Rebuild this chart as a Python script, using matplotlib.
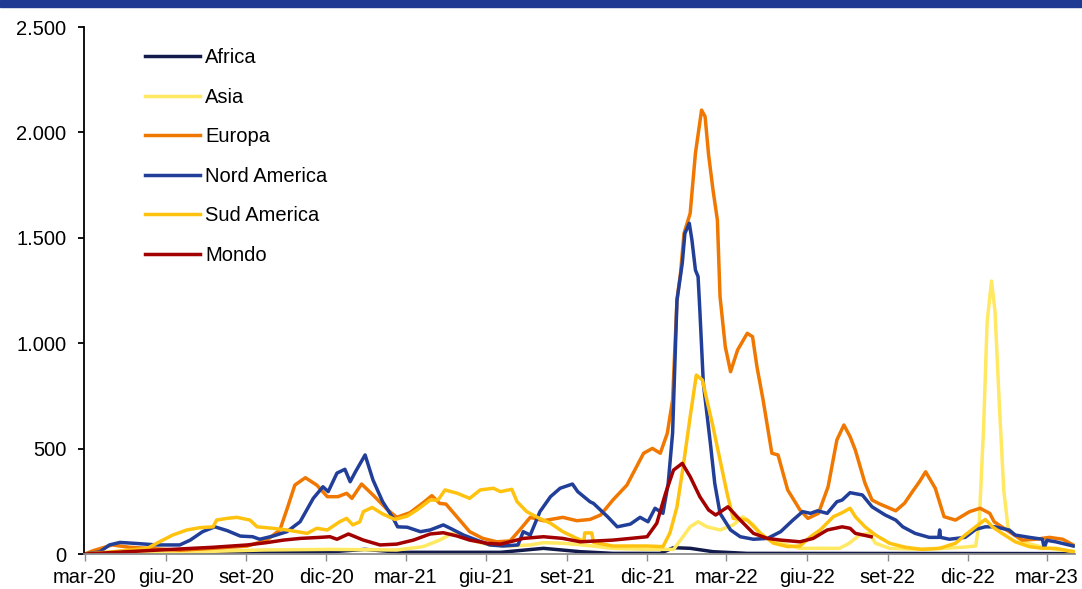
import pandas as pd
import matplotlib
matplotlib.use('Agg')
import matplotlib.pyplot as plt
from matplotlib.patches import Rectangle
from matplotlib.ticker import FuncFormatter

plt.rcParams['font.family'] = ['Liberation Sans', 'DejaVu Sans']

# valori (date, valori)
africa_dates = ['2020-03-01', '2020-07-10', '2020-09-16', '2020-12-05', '2021-01-14', '2021-02-23',
                '2021-06-17', '2021-08-05', '2021-09-16', '2021-10-23', '2021-12-16', '2021-12-31',
                '2022-01-19', '2022-02-14', '2022-03-25', '2023-03-31']
africa_vals = [0, 5, 10, 10, 22, 8, 8, 27, 11, 3, 3, 30, 27, 11, 3, 2]

asia_dates = ['2020-03-01', '2020-05-14', '2020-09-20', '2020-12-05', '2021-02-19', '2021-03-21',
              '2021-04-09', '2021-04-23', '2021-05-05', '2021-05-21', '2021-06-05', '2021-06-28',
              '2021-07-21', '2021-08-05', '2021-08-27', '2021-09-19', '2021-10-23', '2021-12-01',
              '2021-12-31', '2022-01-08', '2022-01-19', '2022-01-28', '2022-02-07', '2022-02-22',
              '2022-03-09', '2022-03-20', '2022-04-01', '2022-04-12', '2022-05-02', '2022-05-24',
              '2022-07-08', '2022-07-19', '2022-07-31', '2022-08-11', '2022-08-18', '2022-09-03',
              '2022-10-10', '2022-11-25', '2022-12-10', '2022-12-14', '2022-12-19', '2022-12-23',
              '2022-12-28', '2023-01-01', '2023-01-06', '2023-01-11', '2023-01-16', '2023-02-01',
              '2023-02-21', '2023-03-11', '2023-03-31']
asia_vals = [0, 5, 19, 22, 19, 35, 66, 98, 82, 58, 43, 38, 43, 54, 51, 43, 27, 22, 22, 66, 129,
             153, 129, 114, 138, 177, 138, 82, 51, 27, 27, 51, 90, 98, 51, 27, 22, 32, 38, 150,
             600, 1100, 1295, 1150, 700, 300, 120, 58, 35, 22, 13]

europa_dates = ['2020-03-01', '2020-03-10', '2020-04-01', '2020-04-21', '2020-05-11', '2020-06-17',
                '2020-08-05', '2020-09-02', '2020-09-24', '2020-10-09', '2020-10-18', '2020-10-26',
                '2020-11-07', '2020-11-20', '2020-12-02', '2020-12-14', '2020-12-24', '2020-12-30',
                '2021-01-10', '2021-01-23', '2021-02-08', '2021-02-19', '2021-03-06', '2021-03-21',
                '2021-03-31', '2021-04-09', '2021-04-16', '2021-04-29', '2021-05-13', '2021-05-28',
                '2021-06-13', '2021-06-28', '2021-07-09', '2021-07-21', '2021-08-05', '2021-08-27',
                '2021-09-12', '2021-09-27', '2021-10-09', '2021-10-23', '2021-11-08', '2021-11-27',
                '2021-12-07', '2021-12-16', '2021-12-24', '2021-12-30', '2022-01-04', '2022-01-08',
                '2022-01-12', '2022-01-19', '2022-01-25', '2022-02-01', '2022-02-05', '2022-02-09',
                '2022-02-14', '2022-02-19', '2022-02-22', '2022-02-28', '2022-03-06', '2022-03-14',
                '2022-03-25', '2022-03-31', '2022-04-05', '2022-04-12', '2022-04-22', '2022-04-29',
                '2022-05-10', '2022-05-24', '2022-06-02', '2022-06-14', '2022-06-25', '2022-07-05',
                '2022-07-13', '2022-07-20', '2022-07-26', '2022-08-06', '2022-08-14', '2022-08-23',
                '2022-09-10', '2022-09-20', '2022-09-29', '2022-10-07', '2022-10-14', '2022-10-25',
                '2022-11-04', '2022-11-17', '2022-12-03', '2022-12-15', '2022-12-26', '2022-12-31',
                '2023-01-17', '2023-02-01', '2023-02-16', '2023-03-04', '2023-03-19', '2023-03-31']
europa_vals = [0, 15, 43, 32, 27, 18, 30, 38, 66, 114, 224, 327, 362, 327, 272, 272, 288, 264,
               332, 280, 212, 174, 196, 243, 277, 240, 237, 174, 106, 74, 58, 62, 114, 174, 158,
               174, 158, 164, 185, 256, 327, 478, 501, 478, 573, 731, 1205, 1332, 1521, 1616,
               1901, 2106, 2075, 1893, 1727, 1584, 1221, 983, 865, 968, 1047, 1031, 889, 731, 478,
               470, 304, 209, 169, 193, 319, 541, 612, 557, 493, 336, 256, 237, 205, 241, 296,
               343, 390, 312, 177, 161, 201, 217, 193, 153, 106, 66, 70, 79, 70, 43]

nord_dates = ['2020-03-01', '2020-03-18', '2020-03-29', '2020-04-10', '2020-04-29', '2020-05-22',
              '2020-06-17', '2020-06-29', '2020-07-13', '2020-07-27', '2020-08-10', '2020-08-25',
              '2020-09-08', '2020-09-16', '2020-10-01', '2020-10-17', '2020-11-01', '2020-11-16',
              '2020-11-27', '2020-12-03', '2020-12-13', '2020-12-22', '2020-12-28', '2021-01-03',
              '2021-01-14', '2021-01-23', '2021-02-03', '2021-02-15', '2021-02-20', '2021-03-03',
              '2021-03-18', '2021-03-29', '2021-04-13', '2021-04-21', '2021-05-06', '2021-05-21',
              '2021-06-05', '2021-06-20', '2021-07-07', '2021-07-13', '2021-07-21', '2021-08-01',
              '2021-08-13', '2021-08-24', '2021-09-07', '2021-09-13', '2021-09-27', '2021-10-01',
              '2021-10-17', '2021-10-28', '2021-11-12', '2021-11-23', '2021-12-02', '2021-12-10',
              '2021-12-19', '2021-12-25', '2021-12-30', '2022-01-04', '2022-01-10', '2022-01-13',
              '2022-01-18', '2022-01-21', '2022-01-25', '2022-01-28', '2022-01-30', '2022-02-03',
              '2022-02-11', '2022-02-16', '2022-02-22', '2022-03-06', '2022-03-17', '2022-04-01',
              '2022-04-17', '2022-05-02', '2022-05-16', '2022-05-27', '2022-06-05', '2022-06-13',
              '2022-06-24', '2022-07-05', '2022-07-11', '2022-07-20', '2022-08-03', '2022-08-14',
              '2022-08-29', '2022-09-10', '2022-09-18', '2022-10-02', '2022-10-18', '2022-10-29',
              '2022-10-30', '2022-10-31', '2022-11-10', '2022-11-28', '2022-12-10', '2022-12-21',
              '2023-01-01', '2023-01-17', '2023-01-24', '2023-02-09', '2023-02-24', '2023-02-26',
              '2023-03-01', '2023-03-11', '2023-03-31']
nord_vals = [0, 10, 43, 55, 50, 43, 43, 66, 106, 129, 111, 85, 82, 70, 85, 106, 153, 264, 319,
             296, 384, 402, 343, 390, 470, 351, 248, 169, 129, 127, 106, 114, 138, 122, 90, 66,
             43, 38, 43, 106, 90, 201, 272, 312, 332, 296, 248, 240, 177, 129, 142, 174, 153,
             217, 193, 335, 573, 1205, 1379, 1521, 1569, 1490, 1347, 1316, 1158, 810, 525, 335,
             193, 114, 82, 70, 74, 106, 161, 201, 193, 205, 193, 248, 256, 291, 280, 224, 185,
             161, 129, 98, 79, 79, 114, 79, 70, 79, 117, 129, 129, 114, 90, 79, 70, 28, 65, 58, 38]

sud_dates = ['2020-03-01', '2020-04-02', '2020-05-11', '2020-05-25', '2020-06-09', '2020-06-25',
             '2020-07-10', '2020-07-25', '2020-07-29', '2020-08-10', '2020-08-21', '2020-09-05',
             '2020-09-13', '2020-10-01', '2020-10-17', '2020-11-09', '2020-11-20', '2020-12-02',
             '2020-12-16', '2020-12-24', '2020-12-31', '2021-01-08', '2021-01-12', '2021-01-22',
             '2021-02-03', '2021-02-17', '2021-03-03', '2021-03-14', '2021-03-29', '2021-04-07',
             '2021-04-15', '2021-04-29', '2021-05-13', '2021-05-25', '2021-06-09', '2021-06-17',
             '2021-06-30', '2021-07-06', '2021-07-17', '2021-07-29', '2021-08-13', '2021-08-27',
             '2021-09-12', '2021-09-20', '2021-09-21', '2021-09-29', '2021-10-01', '2021-10-23',
             '2021-12-01', '2021-12-19', '2021-12-27', '2022-01-04', '2022-01-11', '2022-01-19',
             '2022-01-26', '2022-02-02', '2022-02-07', '2022-02-14', '2022-02-22', '2022-03-02',
             '2022-03-09', '2022-03-25', '2022-04-09', '2022-04-24', '2022-05-10', '2022-05-24',
             '2022-06-05', '2022-06-16', '2022-07-01', '2022-07-11', '2022-07-20', '2022-07-26',
             '2022-08-06', '2022-08-18', '2022-09-03', '2022-09-21', '2022-10-10', '2022-10-30',
             '2022-11-17', '2022-11-28', '2022-12-10', '2022-12-21', '2022-12-29', '2023-01-09',
             '2023-01-24', '2023-02-09', '2023-02-24', '2023-03-11', '2023-03-31']
sud_vals = [0, 11, 27, 58, 90, 114, 125, 129, 161, 169, 174, 161, 129, 122, 114, 98, 122, 114,
            153, 169, 138, 153, 201, 221, 190, 164, 180, 209, 256, 256, 304, 288, 264, 304, 312,
            296, 307, 248, 201, 174, 146, 106, 74, 60, 100, 100, 55, 38, 38, 35, 100, 224, 414,
            651, 849, 825, 731, 604, 446, 288, 169, 161, 98, 51, 35, 38, 82, 114, 177, 196, 217,
            177, 129, 90, 51, 32, 22, 27, 51, 90, 129, 164, 129, 98, 58, 35, 27, 27, 11]

mondo_dates = ['2020-03-01', '2020-05-11', '2020-07-25', '2020-09-02', '2020-09-24', '2020-10-13',
               '2020-11-01', '2020-11-24', '2020-12-05', '2020-12-13', '2020-12-26', '2021-01-12',
               '2021-01-31', '2021-02-19', '2021-03-10', '2021-03-29', '2021-04-13', '2021-04-29',
               '2021-05-13', '2021-06-02', '2021-06-17', '2021-06-28', '2021-07-13', '2021-08-05',
               '2021-08-27', '2021-09-16', '2021-10-23', '2021-11-12', '2021-12-01', '2021-12-12',
               '2021-12-22', '2021-12-31', '2022-01-10', '2022-01-19', '2022-01-30', '2022-02-09',
               '2022-02-17', '2022-03-03', '2022-03-17', '2022-04-01', '2022-04-17', '2022-05-02',
               '2022-05-24', '2022-06-08', '2022-06-24', '2022-07-11', '2022-07-20', '2022-07-26',
               '2022-08-13']
mondo_vals = [0, 16, 32, 43, 54, 66, 74, 79, 82, 70, 95, 66, 43, 47, 66, 95, 101, 85, 66, 51, 47,
              58, 74, 82, 74, 58, 66, 74, 82, 146, 288, 398, 430, 367, 272, 209, 185, 224, 161,
              98, 74, 66, 58, 74, 114, 129, 122, 98, 82]

series = [
    ('Africa', africa_dates, africa_vals, '#131A4C'),
    ('Asia', asia_dates, asia_vals, '#FFE862'),
    ('Europa', europa_dates, europa_vals, '#F07800'),
    ('Nord America', nord_dates, nord_vals, '#213F99'),
    ('Sud America', sud_dates, sud_vals, '#FFC20E'),
    ('Mondo', mondo_dates, mondo_vals, '#A30000'),
]

tick_dates = ['2020-03-01', '2020-06-01', '2020-09-01', '2020-12-01', '2021-03-01', '2021-06-01',
              '2021-09-01', '2021-12-01', '2022-03-01', '2022-06-01', '2022-09-01', '2022-12-01',
              '2023-03-01']
tick_labels = ['mar-20', 'giu-20', 'set-20', 'dic-20', 'mar-21', 'giu-21', 'set-21', 'dic-21',
               'mar-22', 'giu-22', 'set-22', 'dic-22', 'mar-23']

fig = plt.figure(figsize=(10.82, 5.89), dpi=100)
ax = fig.add_axes([0.0776, 0.0594, 0.9159, 0.8947])

for name, d, v, c in series:
    ax.plot(pd.to_datetime(d), v, color=c, lw=2.5, label=name, solid_joinstyle='round')

ax.set_ylim(0, 2500)
ax.set_yticks([0, 500, 1000, 1500, 2000, 2500])
ax.yaxis.set_major_formatter(FuncFormatter(lambda y, p: f'{int(y):,}'.replace(',', '.')))
ax.set_xlim(pd.Timestamp('2020-02-29'), pd.Timestamp('2023-04-02'))
ax.set_xticks(pd.to_datetime(tick_dates))
ax.set_xticklabels(tick_labels)

for s in ['top', 'right']:
    ax.spines[s].set_visible(False)
ax.spines['left'].set_color('black')
ax.spines['left'].set_linewidth(1.3)
ax.spines['bottom'].set_color('#8c8c8c')
ax.spines['bottom'].set_linewidth(1.3)
ax.tick_params(axis='y', direction='out', length=4.5, width=1.3, labelsize=14.5, pad=8)
ax.tick_params(axis='x', direction='out', length=5, width=1, color='#8c8c8c', labelsize=14.5, pad=5)

ax.legend(loc='upper left', bbox_to_anchor=(0.053, 0.975), frameon=False, fontsize=14.5,
          handlelength=2.75, handletextpad=0.25, labelspacing=1.02, borderaxespad=0)

fig.patches.append(Rectangle((0, 1 - 7 / 589), 1, 7 / 589, transform=fig.transFigure,
                             color='#1F3A93', zorder=10))

fig.savefig('out.png', dpi=100)
